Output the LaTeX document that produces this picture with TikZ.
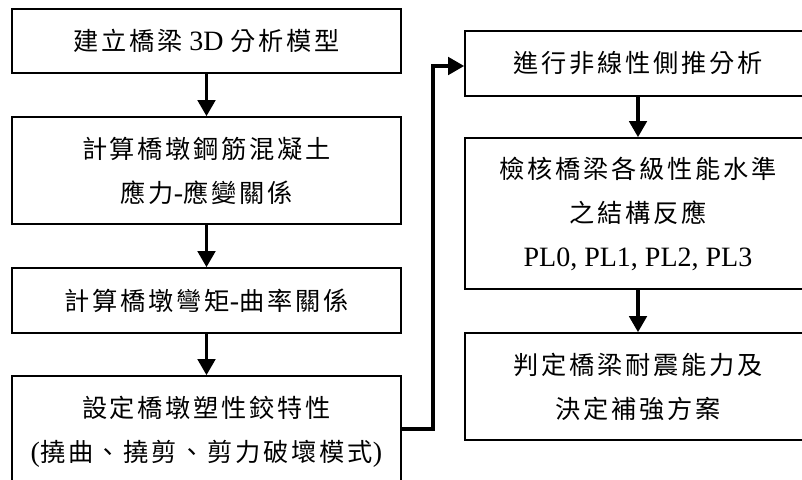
\documentclass[tikz,border=0pt]{standalone}
\usepackage{fontspec}
\setmainfont{Liberation Serif}
\newfontfamily\cjk[Scale=0.9,LetterSpace=11]{Noto Sans CJK TC}
\usetikzlibrary{arrows.meta}
\tikzset{
  box/.style={draw, line width=1.2pt, inner sep=0pt, align=center,
    font=\fontsize{21}{33}\selectfont},
  lbox/.style={box, minimum width=291.75pt},
  rbox/.style={box, minimum width=259.5pt},
  arr/.style={line width=2.6pt, -{Triangle[width=13pt,length=12pt]}}
}
\begin{document}
\begin{tikzpicture}[x=0.75pt,y=-0.75pt]
\useasboundingbox (0,0) rectangle (802,479);
\clip (0,0) rectangle (802,479);
% left column
\node[lbox, minimum height=48pt] (L1) at (206.5,41)
  {{\cjk 建立橋梁} 3D {\cjk 分析模型}};
\node[lbox, minimum height=80.25pt] (L2) at (206.5,170.5)
  {{\cjk 計算橋墩鋼筋混凝土}\\{\cjk 應力}-{\cjk 應變關係}};
\node[lbox, minimum height=48.75pt] (L3) at (206.5,300.5)
  {{\cjk 計算橋墩彎矩}-{\cjk 曲率關係}};
\node[lbox, minimum height=84pt] (L4) at (206.5,432)
  {{\cjk 設定橋墩塑性鉸特性}\\({\cjk 撓曲、撓剪、剪力破壞模式})};
% right column
\node[rbox, minimum height=48.75pt] (R1) at (638,63.5)
  {{\cjk 進行非線性側推分析}};
\node[rbox, minimum height=113.25pt] (R2) at (638,213.5)
  {{\cjk 檢核橋梁各級性能水準}\\{\cjk 之結構反應}\\PL0, PL1, PL2, PL3};
\node[rbox, minimum height=80.25pt] (R3) at (638,386.5)
  {{\cjk 判定橋梁耐震能力及}\\{\cjk 決定補強方案}};
% connectors
\draw[arr] (L1) -- (L2);
\draw[arr] (L2) -- (L3);
\draw[arr] (L3) -- (L4);
\draw[arr] (R1) -- (R2);
\draw[arr] (R2) -- (R3);
\coordinate (k) at (433,66);
\draw[arr] ([yshift=2.25pt]L4.east) -| (k) -- (k -| R1.west);
\end{tikzpicture}
\end{document}
